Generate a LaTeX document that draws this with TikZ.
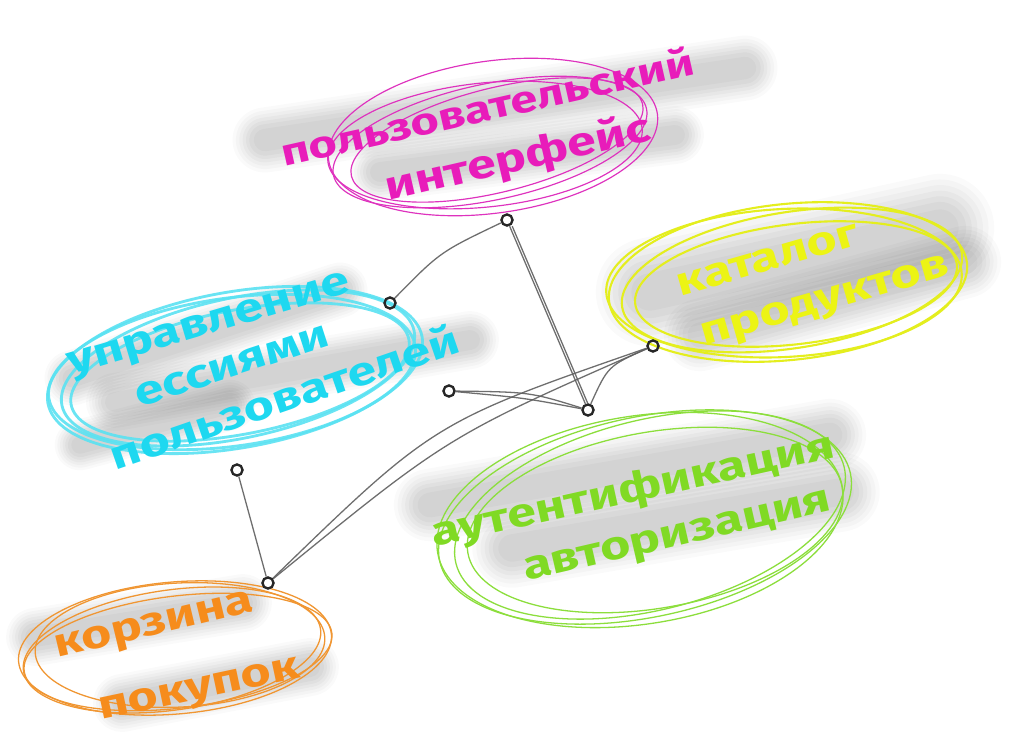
\documentclass[tikz,border=0pt]{standalone}
\usepackage{fontspec}
\setmainfont{Fira Sans}
\definecolor{pinkT}{RGB}{232,28,186}
\definecolor{pinkE}{RGB}{222,50,190}
\definecolor{yelT}{RGB}{236,244,20}
\definecolor{yelE}{RGB}{228,238,30}
\definecolor{cyanT}{RGB}{30,216,240}
\definecolor{cyanE}{RGB}{90,226,242}
\definecolor{grnT}{RGB}{128,218,36}
\definecolor{grnE}{RGB}{140,222,60}
\definecolor{orgT}{RGB}{246,140,28}
\definecolor{orgE}{RGB}{240,150,50}
\definecolor{connC}{RGB}{95,95,95}
\newcommand\hband[3]{%
  \foreach \f/\o in {1.45/0.018,1.3/0.022,1.15/0.025,1.0/0.028,0.85/0.028,0.7/0.028,0.5/0.022}{%
    \draw[line cap=round, black, opacity=\o, line width=#3*\f*0.85pt] (#1) -- (#2);}%
}
\newcommand\hw[1]{\scalebox{1.3}[1]{#1}}
\begin{document}
\begin{tikzpicture}[x=0.03cm,y=-0.03cm,
  txt/.style={inner sep=0pt, font=\fontsize{34}{34}\selectfont\bfseries},
  pinkring/.style={draw=pinkE, line width=1pt},
  yelring/.style={draw=yelE, line width=1.8pt},
  cyanring/.style={draw=cyanE, line width=2.4pt, opacity=0.9},
  grnring/.style={draw=grnE, line width=1.1pt},
  orgring/.style={draw=orgE, line width=1.1pt},
  dot/.style={circle, draw=black!85, line width=2pt, minimum size=9.5pt, inner sep=0pt, fill=none},
  conn/.style={draw=connC, line width=1.1pt, opacity=0.9}]
\useasboundingbox[fill=white] (0,0) rectangle (1024,750);

% --- gray marker bands ---
\hband{265,140}{745,68}{45}
\hband{380,172}{675,135}{40}
\hband{650,292}{940,228}{75}
\hband{700,335}{965,262}{50}
\hband{72,378}{340,290}{38}
\hband{115,402}{470,340}{40}
\hband{80,445}{230,405}{35}
\hband{430,505}{830,435}{50}
\hband{512,548}{840,492}{55}
\hband{35,637}{243,603}{40}
\hband{122,703}{310,667}{40}

% --- rings ---
\draw[pinkring, rotate around={8:(493,137)}] (493,137) ellipse [x radius=166, y radius=76];
\draw[pinkring, rotate around={12:(490,142)}] (490,142) ellipse [x radius=160, y radius=58];
\draw[pinkring, rotate around={14:(497,140)}] (497,140) ellipse [x radius=150, y radius=52];
\draw[pinkring, rotate around={6:(485,145)}] (485,145) ellipse [x radius=158, y radius=62];

\draw[yelring, rotate around={6:(788,282)}] (788,282) ellipse [x radius=180, y radius=78];
\draw[yelring, rotate around={9:(792,280)}] (792,280) ellipse [x radius=172, y radius=68];
\draw[yelring, rotate around={7:(796,284)}] (796,284) ellipse [x radius=162, y radius=60];
\draw[yelring, rotate around={3:(784,283)}] (784,283) ellipse [x radius=178, y radius=74];

\draw[cyanring, rotate around={10:(235,370)}] (235,370) ellipse [x radius=190, y radius=78];
\draw[cyanring, rotate around={12:(238,368)}] (238,368) ellipse [x radius=180, y radius=70];
\draw[cyanring, rotate around={8:(232,372)}] (232,372) ellipse [x radius=185, y radius=74];
\draw[cyanring, rotate around={11:(240,372)}] (240,372) ellipse [x radius=172, y radius=62];

\draw[grnring, rotate around={12:(645,517)}] (645,517) ellipse [x radius=210, y radius=100];
\draw[grnring, rotate around={14:(650,515)}] (650,515) ellipse [x radius=200, y radius=95];
\draw[grnring, rotate around={10:(655,520)}] (655,520) ellipse [x radius=190, y radius=88];
\draw[grnring, rotate around={9:(640,520)}] (640,520) ellipse [x radius=205, y radius=104];

\draw[orgring, rotate around={5:(175,648)}] (175,648) ellipse [x radius=157, y radius=66];
\draw[orgring, rotate around={8:(172,650)}] (172,650) ellipse [x radius=150, y radius=60];
\draw[orgring, rotate around={3:(180,645)}] (180,645) ellipse [x radius=145, y radius=62];
\draw[orgring, rotate around={7:(178,652)}] (178,652) ellipse [x radius=155, y radius=56];

% --- labels ---
\node[txt, text=pinkT, rotate=12.7, font=\fontsize{32}{32}\selectfont\bfseries] (ui1) at (487,106) {\hw{пользовательский}};
\node[txt, text=pinkT, rotate=13] (ui2) at (518,159) {\hw{интерфейс}};
\node[txt, text=yelT, rotate=16] (cat1) at (768,260) {\hw{каталог}};
\node[txt, text=yelT, rotate=16] (cat2) at (826,304) {\hw{продуктов}};
\node[txt, text=cyanT, rotate=16.5] (ses1) at (210,327) {\hw{управление}};
\node[txt, text=cyanT, rotate=18] (ses2) at (232,366) {\hw{ессиями}};
\node[txt, text=cyanT, rotate=19] (ses3) at (284,396) {\hw{пользователей}};
\node[txt, text=grnT, rotate=12.5] (auth1) at (633,491) {\hw{аутентификация}};
\node[txt, text=grnT, rotate=13] (auth2) at (678,539) {\hw{авторизация}};
\node[txt, text=orgT, rotate=13.5] (cart1) at (155,628) {\hw{корзина}};
\node[txt, text=orgT, rotate=12] (cart2) at (200,692) {\hw{покупок}};

% --- connector dots ---
\node[dot] (A) at (507,220) {};
\node[dot] (B) at (390,303) {};
\node[dot] (C) at (588,410) {};
\node[dot] (D) at (449,391) {};
\node[dot] (E) at (653,346) {};
\node[dot] (F) at (237,470) {};
\node[dot] (G) at (268,583) {};

% --- connectors ---
\draw[conn] (B) .. controls (440,252) .. (A);
\draw[conn] (A) -- (C);
\draw[conn, transform canvas={xshift=2.2pt}] (A) -- (C);
\draw[conn] (D) .. controls (530,392) .. (C);
\draw[conn] (D) .. controls (525,398) .. (C);
\draw[conn] (E) .. controls (608,366) .. (C);
\draw[conn] (G) .. controls (434,422) .. (E);
\draw[conn] (G) .. controls (448,436) .. (E);
\draw[conn] (F) -- (G);
\end{tikzpicture}
\end{document}
